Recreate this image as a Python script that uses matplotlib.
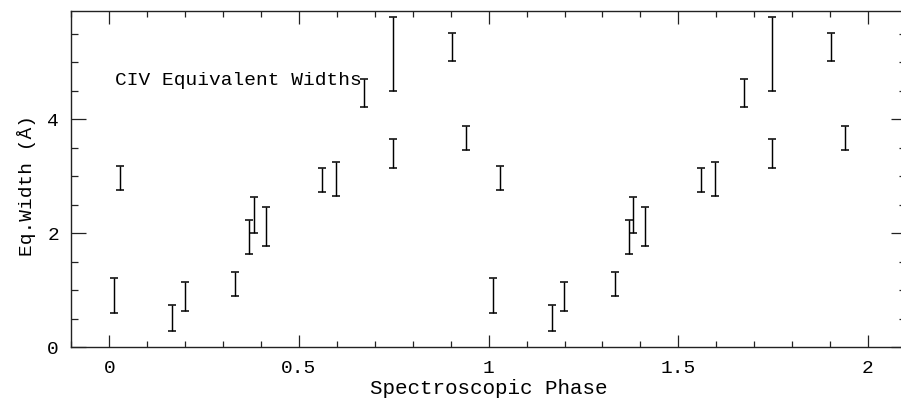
import matplotlib
matplotlib.use("Agg")
import matplotlib.pyplot as plt
import numpy as np
from matplotlib.ticker import MultipleLocator

plt.rcParams["font.family"] = ["Liberation Mono", "DejaVu Sans"]

# CIV equivalent widths vs spectroscopic phase (one cycle, plotted twice)
phase = np.array([0.011, 0.029, 0.166, 0.199, 0.332, 0.369, 0.381, 0.412,
                  0.561, 0.598, 0.672, 0.747, 0.748, 0.903, 0.940])
eq_width = np.array([0.91, 2.97, 0.52, 0.89, 1.11, 1.94, 2.32, 2.12,
                     2.93, 2.95, 4.46, 5.14, 3.40, 5.27, 3.67])
eq_err = np.array([0.30, 0.21, 0.23, 0.25, 0.21, 0.30, 0.32, 0.34,
                   0.21, 0.30, 0.25, 0.65, 0.26, 0.25, 0.21])

x_ticks = [0, 0.5, 1, 1.5, 2]
x_ticklabels = ["0", "0.5", "1", "1.5", "2"]
y_ticks = [0, 2, 4]
y_ticklabels = ["0", "2", "4"]

fig = plt.figure(figsize=(9.01, 4.0), dpi=100)
ax = fig.add_axes([71.4 / 901, 0.1318, 834.5 / 901, 0.8408])

for cycle in (0, 1):
    ax.errorbar(phase + cycle, eq_width, yerr=eq_err, fmt="none",
                ecolor="black", elinewidth=1.05, capsize=3.2, capthick=1.1)

ax.set_xlim(-0.1, 2.1)
ax.set_ylim(0, 5.9)

ax.set_xticks(x_ticks)
ax.set_xticklabels(x_ticklabels)
ax.set_yticks(y_ticks)
ax.set_yticklabels(y_ticklabels)
ax.xaxis.set_minor_locator(MultipleLocator(0.1))
ax.yaxis.set_minor_locator(MultipleLocator(0.5))

ax.tick_params(which="both", direction="in", top=True, right=True,
               width=0.9, color="#222222", labelsize=14, labelcolor="black")
ax.tick_params(axis="x", which="major", length=9, pad=9)
ax.tick_params(axis="x", which="minor", length=4.5)
ax.tick_params(axis="y", which="major", length=11, pad=9)
ax.tick_params(axis="y", which="minor", length=5.3)

for sp in ax.spines.values():
    sp.set_linewidth(1.0)
    sp.set_color("#222222")

ax.set_xlabel("Spectroscopic Phase", fontsize=15)
ax.xaxis.set_label_coords(0.5, -0.095)
ax.set_ylabel("Eq.Width (Å)", fontsize=14)
ax.yaxis.set_label_coords(-0.043, 0.48)

ax.text(0.015, 4.68, "CIV Equivalent Widths", fontsize=14,
        ha="left", va="center")

fig.savefig("out.png", dpi=100)
